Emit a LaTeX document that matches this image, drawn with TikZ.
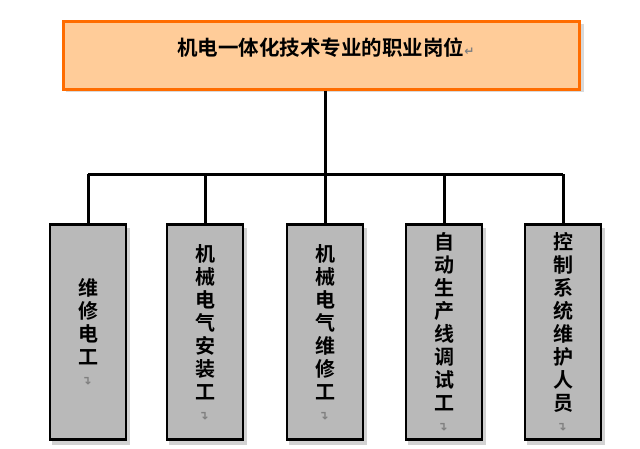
\documentclass[tikz,border=0pt]{standalone}
\usepackage{fontspec}
\newfontfamily\cjk{Noto Sans CJK SC}[BoldFont={* Bold}]
\newfontfamily\dv{DejaVu Sans}
\begin{document}
\begin{tikzpicture}[x=1pt,y=-1pt,
  leaf/.style={draw=black,line width=2.5pt,fill=gray!55,minimum width=76pt,minimum height=215pt,inner sep=0pt},
  lbl/.style={font=\cjk\bfseries\fontsize{20}{23}\selectfont,align=center,inner sep=0pt},
  wire/.style={line width=3pt}]
\useasboundingbox (0,0) rectangle (640,448);
\fill[gray!30] (66,24) rectangle (584,92);
\node[draw=orange!85!red,line width=3pt,fill=orange!40,minimum width=516pt,minimum height=68pt,inner sep=0pt] (top) at (321,55) {};
\node[font=\cjk\bfseries\fontsize{20.5}{22}\selectfont] at (326,48) {机电一体化技术专业的职业岗位{\dv\color{gray}\fontsize{12}{12}\selectfont ↵}};
\coordinate (hub) at (325,174);
\coordinate (hl) at (88,174);
\coordinate (hr) at (563,174);
\draw[wire] (top.south -| hub) -- (hub);
\draw[wire] (hl) -- (hr);
\foreach \n/\x/\t in {a/88/维\\修\\电\\工, b/205/机\\械\\电\\气\\安\\装\\工, c/325/机\\械\\电\\气\\维\\修\\工, d/444/自\\动\\生\\产\\线\\调\\试\\工, e/563/控\\制\\系\\统\\维\\护\\人\\员}{
  \fill[gray!35] (\x-36,228) rectangle (\x+42,445);
  \node[leaf] (\n) at (\x,332) {};
  \draw[wire] (\x,174) -- (\n.north);
  \node[lbl] at (\x,332) {\t\\[-2pt]{\dv\color{gray}\fontsize{12}{12}\selectfont\rotatebox{90}{↵}}};
}
\end{tikzpicture}
\end{document}
